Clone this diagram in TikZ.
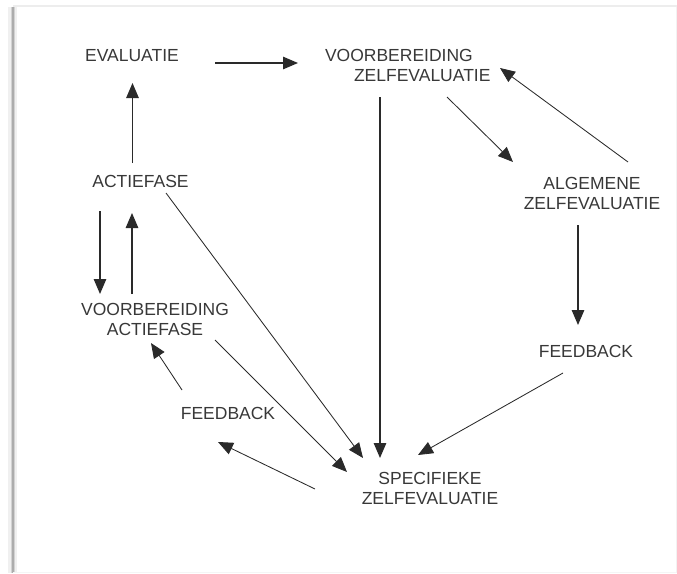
\documentclass[tikz,border=0pt]{standalone}
\usepackage{fontspec}
\setmainfont{Liberation Sans}
\usetikzlibrary{arrows.meta}
\definecolor{ink}{HTML}{2A2A2A}
\definecolor{txt}{HTML}{383838}
\tikzset{
  lbl/.style={inner sep=0pt, outer sep=0pt, text=txt, font=\fontsize{17.5}{20}\selectfont},
  arr/.style={draw=ink, line width=0.85pt, -{Triangle[length=15pt,width=12.5pt]}},
  arrthick/.style={arr, line width=1.3pt},
}
\begin{document}
\begin{tikzpicture}[x=1pt,y=-1pt]
\useasboundingbox (0,0) rectangle (677,573);
% frame with shadow
\fill[gray!12] (8,7) rectangle (17,573);
\fill[gray!35] (10.5,7) rectangle (15,573);
\fill[gray!65] (12,7) rectangle (13.8,573);
\draw[gray!14, line width=2pt] (13,6) -- (677,6);
\draw[gray!10, line width=1pt] (676,7) -- (676,573);
\draw[gray!8, line width=1pt] (13,572) -- (676,572);

% nodes
\node[lbl, anchor=north] (eval) at (132,49) {EVALUATIE};
\node[lbl, anchor=north west, align=left] (vbz) at (325,49) {VOORBEREIDING\\\hspace*{29pt}ZELFEVALUATIE};
\node[lbl, anchor=north] (act) at (140.5,175) {ACTIEFASE};
\node[lbl, anchor=north, align=center] (vba) at (155,303) {VOORBEREIDING\\ACTIEFASE};
\node[lbl, anchor=north] (fbl) at (228,407) {FEEDBACK};
\node[lbl, anchor=north, align=center] (spec) at (430,472) {SPECIFIEKE\\ZELFEVALUATIE};
\node[lbl, anchor=north, align=center] (alg) at (592,177) {ALGEMENE\\ZELFEVALUATIE};
\node[lbl, anchor=north] (fbr) at (586,345) {FEEDBACK};

% connector end points
\coordinate (evalR) at (215,63);
\coordinate (vbzL) at (298,63);
\coordinate (actT) at (132.5,163);
\coordinate (evalB) at (132.5,83);
\coordinate (actBl) at (100,211);
\coordinate (vbaTl) at (100,294);
\coordinate (vbaTr) at (132,294);
\coordinate (actBr) at (132,213);
\coordinate (actSE) at (166,193);
\coordinate (specNW) at (363,458);
\coordinate (vbzB) at (380,97);
\coordinate (specN) at (380,458);
\coordinate (vbzSE) at (447,97);
\coordinate (algNW) at (513,162);
\coordinate (algNE) at (628,162);
\coordinate (vbzE) at (500,68);
\coordinate (algB) at (578,225);
\coordinate (fbrT) at (578,325);
\coordinate (fbrSW) at (563,373);
\coordinate (specNE) at (418,455);
\coordinate (vbaSE) at (215,340);
\coordinate (specW) at (347,472);
\coordinate (specSW) at (315,489);
\coordinate (fblSE) at (218,442);
\coordinate (fblNW) at (182,390);
\coordinate (vbaS) at (151,343);

% connectors
\draw[arrthick] (evalR) -- (vbzL);
\draw[arrthick] (actT) -- (evalB);
\draw[arrthick] (actBl) -- (vbaTl);
\draw[arrthick] (vbaTr) -- (actBr);
\draw[arr] (actSE) -- (specNW);
\draw[arrthick] (vbzB) -- (specN);
\draw[arr] (vbzSE) -- (algNW);
\draw[arr] (algNE) -- (vbzE);
\draw[arrthick] (algB) -- (fbrT);
\draw[arr] (fbrSW) -- (specNE);
\draw[arr] (vbaSE) -- (specW);
\draw[arr] (specSW) -- (fblSE);
\draw[arr] (fblNW) -- (vbaS);
\end{tikzpicture}
\end{document}
